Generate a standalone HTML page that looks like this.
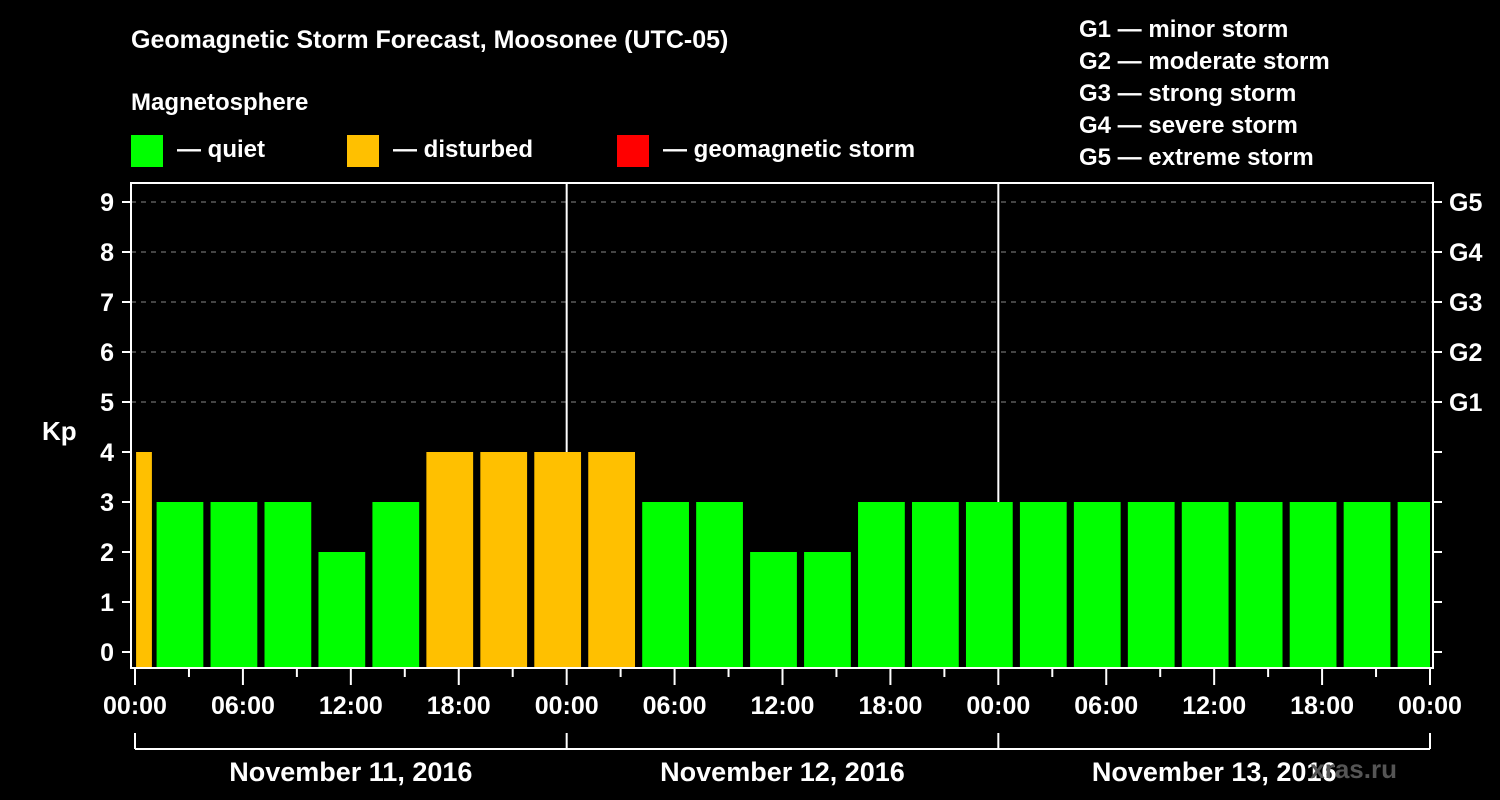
<!DOCTYPE html>
<html><head><meta charset="utf-8"><style>
html,body{margin:0;padding:0;background:#000;}
svg{display:block;font-family:"Liberation Sans",Arial,sans-serif;font-weight:bold;}
</style></head><body>
<svg id="chart" width="1500" height="800" viewBox="0 0 1500 800" xmlns="http://www.w3.org/2000/svg">
<rect width="1500" height="800" fill="#000"/>
<text x="131" y="48" fill="#fff" font-size="25">Geomagnetic Storm Forecast, Moosonee (UTC-05)</text>
<text x="131" y="110" fill="#fff" font-size="24">Magnetosphere</text>
<g><rect x="131" y="135" width="32" height="32" fill="#00ff00"/><text x="177" y="157" fill="#fff" font-size="24">— quiet</text></g>
<g><rect x="347" y="135" width="32" height="32" fill="#ffc000"/><text x="393" y="157" fill="#fff" font-size="24">— disturbed</text></g>
<g><rect x="617" y="135" width="32" height="32" fill="#ff0000"/><text x="663" y="157" fill="#fff" font-size="24">— geomagnetic storm</text></g>
<g fill="#fff" font-size="24">
<text x="1079" y="37">G1 — minor storm</text>
<text x="1079" y="69">G2 — moderate storm</text>
<text x="1079" y="101">G3 — strong storm</text>
<text x="1079" y="133">G4 — severe storm</text>
<text x="1079" y="165">G5 — extreme storm</text>
</g>
<g id="grid"></g>
<g id="bars"></g>
<g id="axes"></g>
<text x="42" y="440" fill="#fff" font-size="26">Kp</text>
<text x="1397" y="778" fill="#555" font-size="26" text-anchor="end">xras.ru</text>
</svg>
<script>
const kpValues = [4,3,3,3,2,3,4,4,4,4,3,3,2,2,3,3,3,3,3,3,3,3,3,3,3];
const barStartHours = [-2,1,4,7,10,13,16,19,22,25,28,31,34,37,40,43,46,49,52,55,58,61,64,67,70];
const yTicks = [0,1,2,3,4,5,6,7,8,9];
const gLabels = ["G1","G2","G3","G4","G5"];
const gLevels = [5,6,7,8,9];
const xTickLabels = ["00:00","06:00","12:00","18:00","00:00","06:00","12:00","18:00","00:00","06:00","12:00","18:00","00:00"];
const dayLabels = ["November 11, 2016","November 12, 2016","November 13, 2016"];

const NS="http://www.w3.org/2000/svg";
const L=131,R=1433,T=183,B=668,X0=135,X1=1430,HRS=72;
const x=h=>X0+(X1-X0)*h/HRS;
const y=v=>652-50*v;
function mk(tag,at,parent){const e=document.createElementNS(NS,tag);for(const k in at)e.setAttribute(k,at[k]);parent.appendChild(e);return e;}
const grid=document.getElementById('grid'),bars=document.getElementById('bars'),axes=document.getElementById('axes');

gLevels.forEach(v=>{
  const ln=mk('line',{x1:L,x2:R,y1:y(v),y2:y(v),stroke:'#888','stroke-width':1,'stroke-dasharray':'5,5'},grid);
  
  
});
[24,48].forEach(h=>{
  const ln=mk('line',{x1:x(h),x2:x(h),y1:T,y2:B,stroke:'#fff','stroke-width':2},grid);
  
  
});

kpValues.forEach((v,i)=>{
  let h0=barStartHours[i]+0.06, h1=barStartHours[i]+3-0.06;
  if(i>0){h0=barStartHours[i]+0.2;h1=barStartHours[i]+3-0.2;}
  h0=Math.max(h0,0.06); h1=Math.min(h1,HRS);
  const col=v>=5?'#ff0000':(v>=4?'#ffc000':'#00ff00');
  const r=mk('rect',{x:x(h0),y:y(v),width:x(h1)-x(h0),height:B-y(v),fill:col},bars);
  
  
});

mk('rect',{x:L,y:T,width:R-L,height:B-T,fill:'none',stroke:'#fff','stroke-width':2},axes);
yTicks.forEach(v=>{
  mk('line',{x1:122,x2:L,y1:y(v),y2:y(v),stroke:'#fff','stroke-width':2},axes);
  mk('line',{x1:R,x2:1442,y1:y(v),y2:y(v),stroke:'#fff','stroke-width':2},axes);
  const t=mk('text',{x:114,y:y(v)+9,fill:'#fff','font-size':25,'text-anchor':'end'},axes);
  t.textContent=v;
  
  
});
gLabels.forEach((g,i)=>{
  const t=mk('text',{x:1449,y:y(gLevels[i])+9,fill:'#fff','font-size':25},axes);
  t.textContent=g;
  
  
});
for(let h=0;h<=HRS;h+=3){
  const major=h%6===0;
  mk('line',{x1:x(h),x2:x(h),y1:B,y2:B+(major?17:9),stroke:'#fff','stroke-width':2},axes);
}
xTickLabels.forEach((s,i)=>{
  const t=mk('text',{x:x(i*6),y:714,fill:'#fff','font-size':25,'text-anchor':'middle'},axes);
  t.textContent=s;
  
  
});
mk('line',{x1:X0,x2:X1,y1:749,y2:749,stroke:'#fff','stroke-width':2},axes);
[0,24,48,72].forEach(h=>mk('line',{x1:x(h),x2:x(h),y1:733,y2:749,stroke:'#fff','stroke-width':2},axes));
dayLabels.forEach((s,i)=>{
  const t=mk('text',{x:x(i*24+12),y:781,fill:'#fff','font-size':27,'text-anchor':'middle'},axes);
  t.textContent=s;
  
  
});
</script>
</body></html>
